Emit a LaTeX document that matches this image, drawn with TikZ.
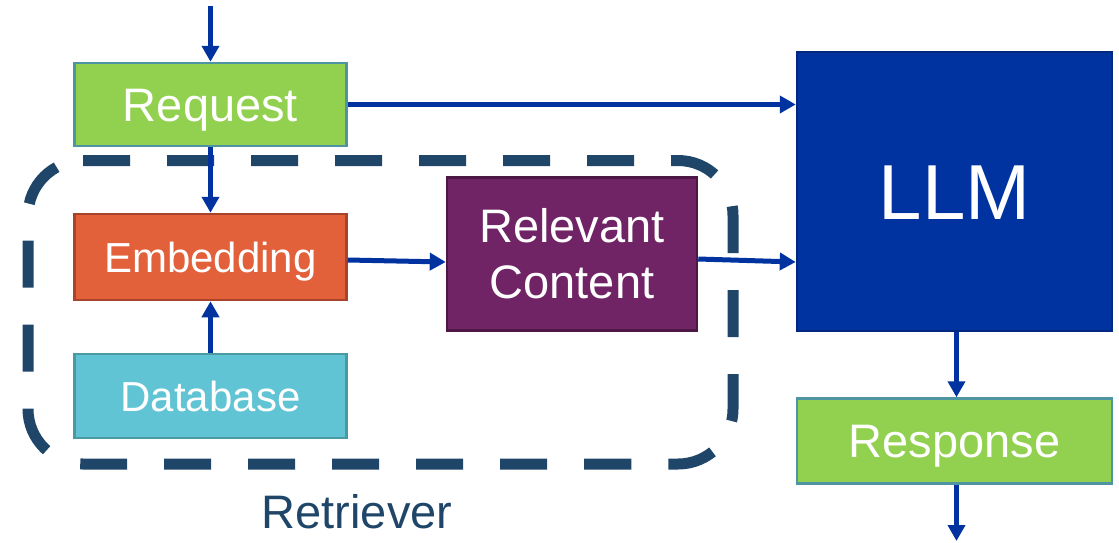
\documentclass[tikz,border=0pt]{standalone}
\usepackage{fontspec}
\setmainfont{Liberation Sans}
\usetikzlibrary{arrows.meta}
\definecolor{grn}{HTML}{92D050}
\definecolor{grnb}{HTML}{4F94A3}
\definecolor{org}{HTML}{E2603A}
\definecolor{orgb}{HTML}{A9442A}
\definecolor{cyn}{HTML}{60C4D4}
\definecolor{cynb}{HTML}{4A9AA4}
\definecolor{pur}{HTML}{702365}
\definecolor{purb}{HTML}{4E1846}
\definecolor{llmc}{HTML}{0033A0}
\definecolor{llmb}{HTML}{00287F}
\definecolor{arrc}{HTML}{0033A0}
\definecolor{navy}{HTML}{1F4568}
\tikzset{
  box/.style={draw, line width=2.5pt, text=white, inner sep=0pt, align=center},
  bigtxt/.style={font=\fontsize{47}{56}\selectfont, text height=33.6pt, text depth=0pt},
  midtxt/.style={font=\fontsize{42}{50}\selectfont, text height=30pt, text depth=0pt},
  arr/.style={draw=arrc, line width=5pt, -{Triangle[length=16pt, width=17pt]}},
  dashbox/.style={draw=navy, line width=11pt, dash pattern=on 47pt off 37pt, rounded corners=55pt}
}
\begin{document}
\begin{tikzpicture}[x=1pt, y=-1pt]
\useasboundingbox (0,0) rectangle (1119,542);
% retriever dashed frame
\draw[dashbox] (83,160.5) -- (733,160.5) -- (733,464) -- (28,464) -- (28,160.5) -- (83,160.5);
\node[navy, font=\fontsize{47}{56}\selectfont, anchor=base] (retr) at (357,528) {Retriever};
% boxes
\node[box, bigtxt, fill=grn, draw=grnb, minimum width=272pt, minimum height=83pt] (req) at (210.5,104.5) {Request};
\node[box, midtxt, fill=org, draw=orgb, minimum width=272pt, minimum height=86pt] (emb) at (210.5,257) {Embedding};
\node[box, midtxt, fill=cyn, draw=cynb, minimum width=272pt, minimum height=84pt] (db) at (210.5,396) {Database};
\node[box, font=\fontsize{47}{56}\selectfont, fill=pur, draw=purb, minimum width=250pt, minimum height=153pt] (rel) at (572,254) {Relevant\\Content};
\node[box, font=\fontsize{78}{90}\selectfont, text height=56pt, text depth=0pt, fill=llmc, draw=llmb, minimum width=315pt, minimum height=279pt] (llm) at (954.5,191.5) {LLM};
\node[box, bigtxt, fill=grn, draw=grnb, minimum width=315pt, minimum height=85pt] (resp) at (954.5,441) {Response};
% connectors
\coordinate (in) at (210.5,6);
\coordinate (out) at (956.5,541);
\draw[arr] (in) -- (req.north);
\draw[arr] (req.south) -- (emb.north);
\draw[arr] (db.north) -- (emb.south);
\draw[arr] (req.east) -- (req.east -| llm.west);
\draw[arr] ([yshift=-3pt]emb.east) -- ([yshift=-8pt]rel.west);
\draw[arr] ([yshift=-5pt]rel.east) -- ([yshift=-70.5pt]llm.west);
\draw[arr] ([xshift=2pt]llm.south) -- ([xshift=2pt]resp.north);
\draw[arr] ([xshift=2pt]resp.south) -- (out);
\end{tikzpicture}
\end{document}
